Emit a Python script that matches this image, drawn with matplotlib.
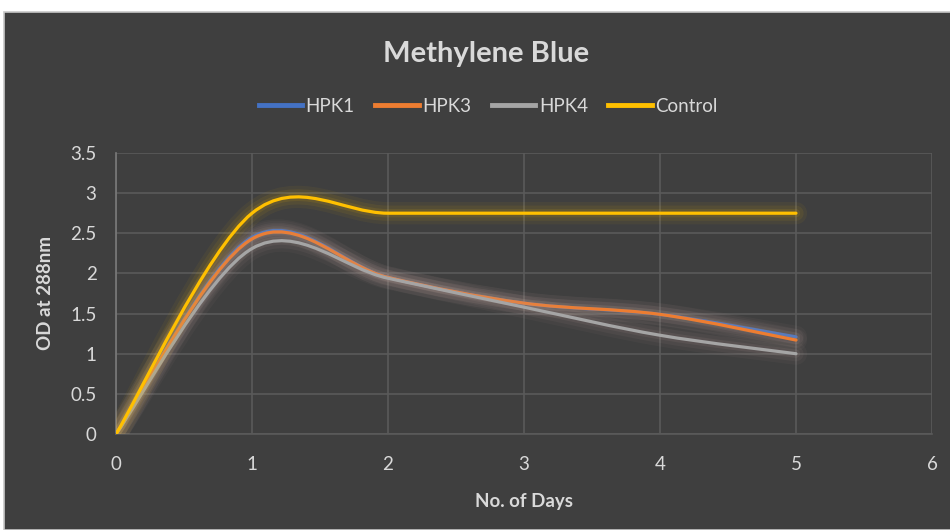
import matplotlib
matplotlib.use("Agg")
import matplotlib.pyplot as plt
import matplotlib.patheffects as pe
from matplotlib.path import Path
from matplotlib.patches import PathPatch, Rectangle
from matplotlib.lines import Line2D

# Data
days = [0, 1, 2, 3, 4, 5]
hpk1 = [0, 2.45, 1.95, 1.63, 1.49, 1.21]
hpk3 = [0, 2.43, 1.95, 1.63, 1.49, 1.17]
hpk4 = [0, 2.31, 1.94, 1.58, 1.23, 1.00]
control = [0, 2.75, 2.75, 2.75, 2.75, 2.75]

series_names = ["HPK1", "HPK3", "HPK4", "Control"]
series_values = [hpk1, hpk3, hpk4, control]
series_colors = ["#4472C4", "#ED7D31", "#A5A5A5", "#FFC000"]

bg = "#3F3F3F"
text_col = "#D9D9D9"
grid_col = "#5A5A5A"

plt.rcParams['font.family'] = ['Lato', 'DejaVu Sans']


def smooth_path(x, y):
    # Excel-style smoothed line: cubic Bezier segments (Catmull-Rom, tension 1/6)
    n = len(x)
    verts = [(x[0], y[0])]
    codes = [Path.MOVETO]
    for i in range(n - 1):
        x0, y0 = (x[i - 1], y[i - 1]) if i > 0 else (x[i], y[i])
        x3, y3 = (x[i + 2], y[i + 2]) if i + 2 < n else (x[i + 1], y[i + 1])
        c1 = (x[i] + (x[i + 1] - x0) / 6, y[i] + (y[i + 1] - y0) / 6)
        c2 = (x[i + 1] - (x3 - x[i]) / 6, y[i + 1] - (y3 - y[i]) / 6)
        verts += [c1, c2, (x[i + 1], y[i + 1])]
        codes += [Path.CURVE4] * 3
    return Path(verts, codes)


fig = plt.figure(figsize=(9.5, 5.3), dpi=100)
fig.patch.set_facecolor("white")
# dark chart area with a thin light border
frame = Rectangle((4 / 950, 0), 1, 1 - 12 / 530, transform=fig.transFigure,
                  facecolor=bg, edgecolor="#C8C8C8", linewidth=1.2, zorder=-5)
fig.add_artist(frame)

ax = fig.add_axes([116 / 950, 1 - 434 / 530, (932 - 116) / 950, (434 - 153) / 530])
ax.set_facecolor(bg)
ax.set_zorder(2)

for name, vals, col in zip(series_names, series_values, series_colors):
    glow_col = col if name == "Control" else "#B9A09A"
    patch = PathPatch(smooth_path(days, vals), fill=False, edgecolor=col,
                      linewidth=2.3, capstyle="round", joinstyle="round", zorder=3)
    patch.set_path_effects([
        pe.Stroke(linewidth=16, foreground=glow_col, alpha=0.05),
        pe.Stroke(linewidth=11, foreground=glow_col, alpha=0.07),
        pe.Stroke(linewidth=6, foreground=glow_col, alpha=0.10),
        pe.Normal(),
    ])
    ax.add_patch(patch)

ax.set_xlim(0, 6)
ax.set_ylim(0, 3.5)
ax.set_xticks(range(0, 7))
ax.set_yticks([0, 0.5, 1, 1.5, 2, 2.5, 3, 3.5])
ax.set_yticklabels(["0", "0.5", "1", "1.5", "2", "2.5", "3", "3.5"])

ax.grid(True, color=grid_col, linewidth=1.2)
ax.set_axisbelow(True)
for s in ax.spines.values():
    s.set_visible(False)
ax.spines['left'].set_visible(True)
ax.spines['left'].set_color("#7A7A7A")
ax.spines['left'].set_linewidth(1.2)
ax.spines['bottom'].set_visible(True)
ax.spines['bottom'].set_color(grid_col)
ax.spines['bottom'].set_linewidth(1.2)

ax.tick_params(axis='both', length=0, colors=text_col, labelsize=13.5)
ax.tick_params(axis='x', pad=16)
ax.tick_params(axis='y', pad=14)

ax.set_xlabel("No. of Days", fontsize=13.5, fontweight='bold', color=text_col, labelpad=14)
ax.set_ylabel("OD at 288nm", fontsize=13.5, fontweight='bold', color=text_col, labelpad=12)

fig.text(0.512, 0.898, "Methylene Blue", ha='center', va='center',
         fontsize=21, fontweight='bold', color=text_col)

handles = [Line2D([0], [0], color=c, linewidth=3.5) for c in series_colors]
fig.legend(handles, series_names, loc='center', bbox_to_anchor=(0.514, 0.800), ncol=4,
           frameon=False, fontsize=13.5, labelcolor=text_col, handlelength=2.3,
           handletextpad=0.2, columnspacing=1.1)

fig.savefig("out.png", dpi=100, facecolor=fig.get_facecolor())
